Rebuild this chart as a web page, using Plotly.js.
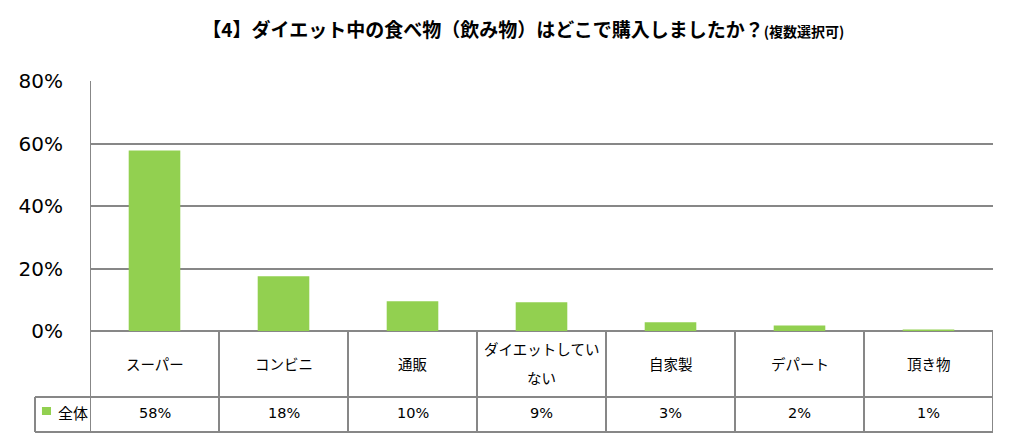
<!DOCTYPE html>
<html>
<head>
<meta charset="utf-8">
<script src="https://cdn.plot.ly/plotly-3.0.1.min.js"></script>
<style>html,body{margin:0;padding:0;background:#fff;}#chart{width:1016px;height:442px;}</style>
</head>
<body>
<div id="chart"></div>
<script>
var categories = ['スーパー', 'コンビニ', '通販', 'ダイエットしてい<br>ない', '自家製', 'デパート', '頂き物'];
var values = [57.8, 17.5, 9.5, 9.2, 2.8, 1.8, 0.5];
var valueLabels = ['58%', '18%', '10%', '9%', '3%', '2%', '1%'];
var seriesName = '全体';
var yTicks = [0, 20, 40, 60, 80];

var GRAY = '#878787';
var GREEN = '#92D050';
var FONT = 'DejaVu Sans, Noto Sans CJK JP, sans-serif';
var JFONT = 'Noto Sans CJK JP, DejaVu Sans, sans-serif';

var idx = categories.map(function(_, i){ return i; });

var trace = {
  type: 'bar',
  x: idx,
  y: values,
  name: seriesName,
  marker: {color: GREEN, line: {width: 0}},
  width: 0.4,
  hoverinfo: 'skip',
  showlegend: false
};

var rowMid = -0.264;
var rowBot = -0.404;
var legLeft = -0.0609;

var shapes = [];
var annotations = [];
shapes.push({type:'line', xref:'paper', yref:'paper', x0:legLeft, x1:1, y0:rowMid, y1:rowMid, line:{color:GRAY, width:2}});
shapes.push({type:'line', xref:'paper', yref:'paper', x0:legLeft, x1:1, y0:rowBot, y1:rowBot, line:{color:GRAY, width:2}});
shapes.push({type:'line', xref:'paper', yref:'paper', x0:legLeft, x1:legLeft, y0:rowMid, y1:rowBot, line:{color:GRAY, width:2}});
for (var i = 0; i <= categories.length; i++) {
  shapes.push({type:'line', xref:'x', yref:'paper', x0:i-0.5, x1:i-0.5, y0:(i===0?1:0), y1:rowBot, line:{color:GRAY, width:2}});
}
shapes.push({type:'rect', xref:'paper', yref:'paper', x0:-0.0532, x1:-0.0432, y0:-0.304, y1:-0.336, fillcolor:GREEN, line:{width:0}});
annotations.push({xref:'paper', yref:'paper', x:-0.0377, y:-0.324, xanchor:'left', yanchor:'middle', text:seriesName, showarrow:false, font:{family:JFONT, size:15, color:'#000'}});

categories.forEach(function(c, i){
  var lines = c.split('<br>');
  if (lines.length === 1) {
    annotations.push({xref:'x', yref:'paper', x:i, y:-0.128, yanchor:'middle', text:c, showarrow:false, font:{family:JFONT, size:14.5, color:'#000'}});
  } else {
    var ys = [-0.068, -0.184];
    lines.forEach(function(l, k){
      annotations.push({xref:'x', yref:'paper', x:i, y:ys[k], yanchor:'middle', text:l, showarrow:false, font:{family:JFONT, size:14.5, color:'#000'}});
    });
  }
  annotations.push({xref:'x', yref:'paper', x:i, y:-0.326, yanchor:'middle', text:valueLabels[i], showarrow:false, font:{family:FONT, size:14.5, color:'#000'}});
});

var layout = {
  width: 1016, height: 442,
  margin: {l:90, r:23, t:81, b:111},
  paper_bgcolor: '#fff', plot_bgcolor: '#fff',
  title: {
    text: '<b>【4】ダイエット中の食べ物（飲み物）はどこで購入しましたか？<span style="font-size:14px">(複数選択可)</span></b>',
    font: {family: JFONT, size: 19, color: '#000'},
    x: 0.515, xanchor: 'center', xref: 'container',
    y: 0.932, yanchor: 'middle', yref: 'container'
  },
  xaxis: {
    type: 'linear', range: [-0.5, categories.length - 0.5],
    showticklabels: false, showgrid: false, zeroline: false, showline: false, ticks: ''
  },
  yaxis: {
    range: [0, 80], tickvals: yTicks, ticktext: yTicks.map(function(v){return v + '%';}),
    showgrid: true, gridcolor: GRAY, gridwidth: 2,
    zeroline: true, zerolinecolor: GRAY, zerolinewidth: 2,
    showline: false,
    ticks: 'outside', ticklen: 22, tickcolor: 'rgba(0,0,0,0)',
    tickfont: {family: FONT, size: 20, color: '#000'}
  },
  shapes: shapes,
  annotations: annotations,
  bargap: 0.6
};

Plotly.newPlot('chart', [trace], layout, {displayModeBar: false, staticPlot: true});
</script>
</body>
</html>
